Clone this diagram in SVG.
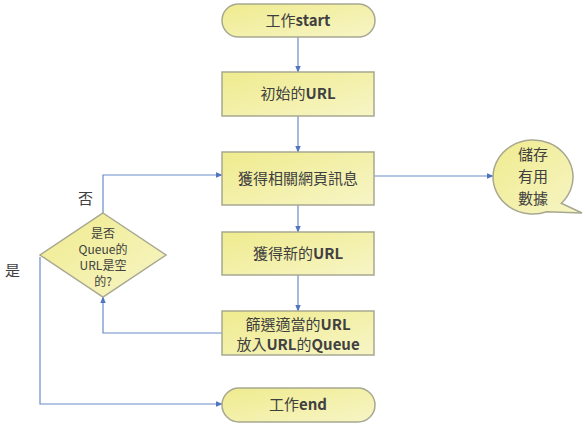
<svg xmlns="http://www.w3.org/2000/svg" width="588" height="427" viewBox="0 0 588 427">
<defs>
<linearGradient id="g" x1="0" y1="0" x2="1" y2="1">
<stop offset="0" stop-color="#efeb8e"/>
<stop offset="1" stop-color="#f7f5c6"/>
</linearGradient>
<marker id="a" viewBox="0 0 10 10" refX="9" refY="5" markerWidth="6" markerHeight="6" orient="auto">
<path d="M0,1 L10,5 L0,9 z" fill="#4f74c2"/>
</marker>
<style>
.n{fill:url(#g);stroke:#a8a890;stroke-width:1.5}
.t{font-family:"Noto Sans CJK TC","Noto Sans",sans-serif;font-size:15px;fill:#404040;text-anchor:middle}
.s{font-size:12px}
.b{font-weight:bold}
.c{fill:none;stroke:#6b8ccc;stroke-width:1.2;marker-end:url(#a)}
.l{font-family:"Noto Sans CJK TC",sans-serif;font-size:15px;fill:#404040}
</style>
</defs>
<rect width="588" height="427" fill="#fff"/>
<g id="connectors">
<path class="c" d="M298,37 V72"/>
<path class="c" d="M298,116 V152"/>
<path class="c" d="M298,205 V232"/>
<path class="c" d="M298,275 V311"/>
<path class="c" d="M374,176 H493"/>
<path class="c" d="M103,213 V175 H222"/>
<path class="c" d="M222,333 H103 V297"/>
<path class="c" d="M40,257 V404 H222"/>
</g>
<g id="start"><rect class="n" x="222" y="4" width="153" height="33" rx="16.5"/><text class="t" x="298" y="26">工作<tspan class="b">start</tspan></text></g>
<g id="init"><rect class="n" x="222" y="72" width="152" height="44"/><text class="t" x="298" y="99">初始的<tspan class="b">URL</tspan></text></g>
<g id="fetch"><rect class="n" x="222" y="152" width="152" height="53"/><text class="t" x="298" y="184">獲得相關網頁訊息</text></g>
<g id="newurl"><rect class="n" x="222" y="232" width="152" height="43"/><text class="t" x="298" y="259">獲得新的<tspan class="b">URL</tspan></text></g>
<g id="filter"><rect class="n" x="222" y="311" width="152" height="44"/><text class="t" x="298" y="330">篩選適當的<tspan class="b">URL</tspan></text><text class="t" x="298" y="350">放入<tspan class="b">URL</tspan>的<tspan class="b">Queue</tspan></text></g>
<g id="end"><rect class="n" x="222" y="388" width="153" height="34" rx="17"/><text class="t" x="298" y="410">工作<tspan class="b">end</tspan></text></g>
<g id="decision"><path class="n" d="M103,213 L166,255 L103,297 L40,255 Z"/>
<text class="t s" x="103" y="238">是否</text><text class="t s" x="103" y="254">Queue的</text><text class="t s" x="103" y="270">URL是空</text><text class="t s" x="103" y="286">的?</text></g>
<g id="store"><path class="n" d="M561.3,203.2 A40,37 0 1 0 546.7,211.8 L582,213 Z"/>
<text class="t" x="533" y="160">儲存</text><text class="t" x="533" y="182">有用</text><text class="t" x="533" y="204">數據</text></g>
<text class="l" x="78" y="204">否</text>
<text class="l" x="5" y="276">是</text>
</svg>
